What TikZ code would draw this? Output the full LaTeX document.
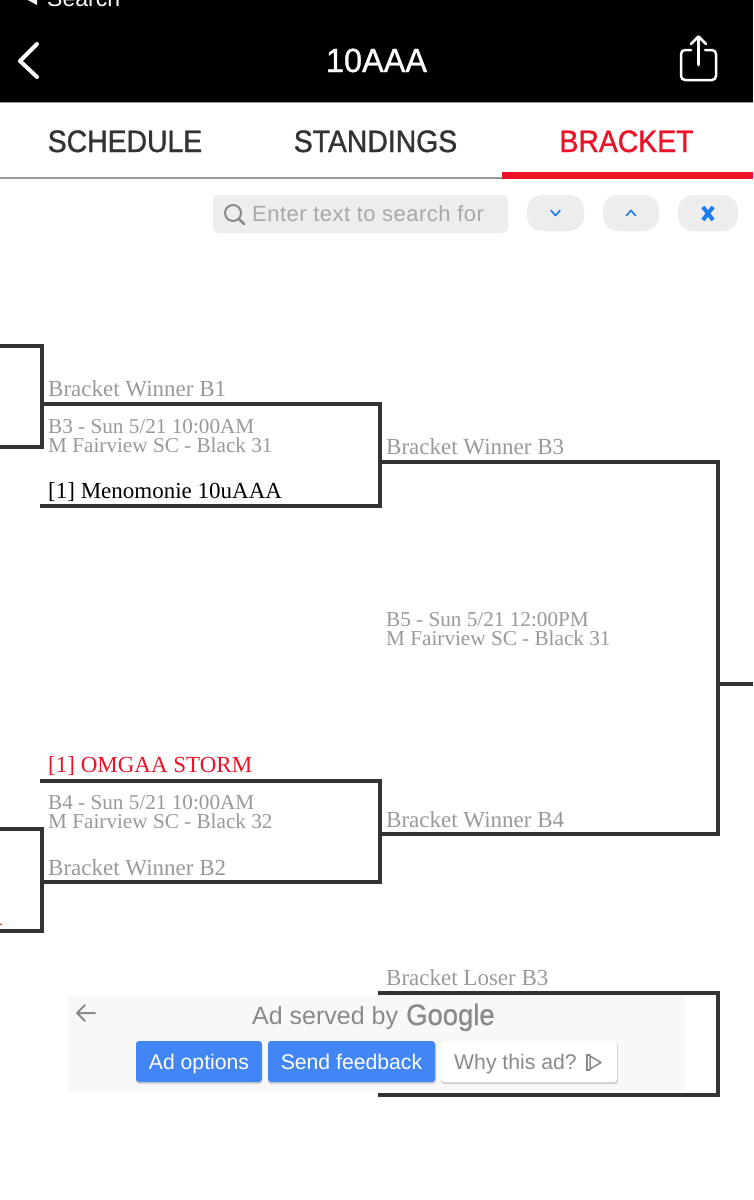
\documentclass[tikz,border=0pt]{standalone}
\usepackage{fontspec}
\setmainfont{Liberation Serif}
\newfontfamily\uifont{Liberation Sans}
\newfontfamily\tabfont[FakeBold=1.1,FakeStretch=0.915]{Liberation Sans}
\newfontfamily\titlefont[FakeBold=0.9,FakeStretch=0.97]{Liberation Sans}
\newfontfamily\googfont[FakeBold=0.8,FakeStretch=0.93]{Liberation Sans}
\newfontfamily\searchfont[LetterSpace=2.2]{Liberation Sans}
\definecolor{brk}{HTML}{333333}
\definecolor{muted}{HTML}{999999}
\definecolor{tabdark}{HTML}{333333}
\definecolor{brandred}{HTML}{EC1328}
\definecolor{chip}{HTML}{EDEDED}
\definecolor{iosblue}{HTML}{1A7CF0}
\definecolor{adbg}{HTML}{F8F8F8}
\definecolor{adblue}{HTML}{4285F4}
\definecolor{adgrey}{HTML}{8A8A8A}
\tikzset{
  x=1pt,y=-1pt,
  bline/.style={draw=brk,line width=4pt,line join=miter},
  lbl/.style={anchor=base west,inner sep=0pt,font=\fontsize{23}{23}\selectfont,text=muted},
  small/.style={lbl,font=\fontsize{21.2}{21.2}\selectfont},
  team/.style={lbl,text=black},
  win/.style={lbl,text=brandred},
  tab/.style={anchor=base,inner sep=0pt,font=\tabfont\fontsize{31}{31}\selectfont,text=tabdark},
  chipbtn/.style={fill=chip,rounded corners=15pt},
  adbtn/.style={anchor=base,inner sep=0pt,font=\uifont\fontsize{21.2}{22}\selectfont,text=white},
  icon/.style={draw=white,line width=3pt,line cap=round,line join=round},
  smallicon/.style={draw=iosblue,line width=1.6pt,line cap=round,line join=round},
}
\begin{document}
\begin{tikzpicture}
\useasboundingbox (0,0) rectangle (753,1200);
\clip (0,0) rectangle (753,1200);
\fill[white] (0,0) rectangle (753,1200);
% header
\fill[black] (0,0) rectangle (753,102);
\draw[muted,line width=1pt] (0,102.5) -- (753,102.5);
\node[anchor=base west,inner sep=0pt,text=white,font=\uifont\fontsize{23}{23}\selectfont] (searchback) at (47,6.5) {Search};
\fill[white] (26,-1) -- (37,-7) -- (37,5) -- cycle;
\node[anchor=base,inner sep=0pt,text=white,font=\titlefont\fontsize{33.5}{33.5}\selectfont] (title) at (376.5,72) {10AAA};
\draw[icon,line width=4pt] (37,44) -- (20,61) -- (37,77);
\draw[icon,line width=2.5pt,rounded corners=4pt] (691,50) -- (681,50) -- (681,80) -- (716,80) -- (716,50) -- (705,50);
\draw[icon,line width=2.5pt] (698.5,37) -- (698.5,65);
\draw[icon,line width=2.5pt] (691,44) -- (698.5,36.5) -- (706,44);
% tabs
\node[tab] (schedule) at (125,152) {SCHEDULE};
\node[tab] (standings) at (375.5,152) {STANDINGS};
\node[tab,text=brandred] (bracket) at (626.5,152) {BRACKET};
\draw[muted,line width=1.5pt] (0,178) -- (502,178);
\fill[brandred] (502,172) rectangle (753,179);
% search row
\fill[chip,rounded corners=6pt] (213,195) rectangle (508,233);
\draw[adgrey,line width=2pt] (233,213) circle (8);
\draw[adgrey,line width=2.5pt,line cap=round] (239,219) -- (244,224);
\node[anchor=base west,inner sep=0pt,text=muted!85!white,font=\searchfont\fontsize{22}{22}\selectfont] (searchtxt) at (252,221.5) {Enter text to search for};
\fill[chipbtn] (527,195) rectangle (584,231);
\fill[chipbtn] (603,195) rectangle (659,231);
\fill[chipbtn] (678,195) rectangle (738,231);
\draw[smallicon] (551,210.5) -- (555.5,215.5) -- (560,210.5);
\draw[smallicon] (626.5,215.5) -- (631,210.5) -- (635.5,215.5);
\draw[iosblue,line width=4pt] (703,207) -- (713,220) (713,207) -- (703,220);
% bracket lines
\coordinate (a1) at (0,346); \coordinate (a2) at (42,346); \coordinate (a3) at (42,447); \coordinate (a4) at (0,447);
\draw[bline] (a1) -- (a2) -- (a3) -- (a4);
\coordinate (b1) at (40,404); \coordinate (b2) at (380,404); \coordinate (b3) at (380,506); \coordinate (b4) at (40,506);
\draw[bline] (b1) -- (b2) -- (b3) -- (b4);
\coordinate (c1) at (380,462); \coordinate (c2) at (718,462); \coordinate (c3) at (718,834); \coordinate (c4) at (380,834);
\draw[bline] (c1) -- (c2) -- (c3) -- (c4);
\coordinate (c5) at (718,684); \coordinate (c6) at (753,684);
\draw[bline] (c5) -- (c6);
\coordinate (d1) at (40,781); \coordinate (d2) at (380,781); \coordinate (d3) at (380,882); \coordinate (d4) at (40,882);
\draw[bline] (d1) -- (d2) -- (d3) -- (d4);
\coordinate (e1) at (0,829); \coordinate (e2) at (42,829); \coordinate (e3) at (42,931); \coordinate (e4) at (0,931);
\draw[bline] (e1) -- (e2) -- (e3) -- (e4);
% bracket labels
\node[lbl] (t1) at (48,396) {Bracket Winner B1};
\node[small] (t2) at (48,433) {B3 - Sun 5/21 10:00AM};
\node[small] (t3) at (48,452) {M Fairview SC - Black 31};
\node[team] (t4) at (48,498) {[1] Menomonie 10uAAA};
\node[lbl] (t5) at (386,454) {Bracket Winner B3};
\node[small] (t6) at (386,626) {B5 - Sun 5/21 12:00PM};
\node[small] (t7) at (386,645) {M Fairview SC - Black 31};
\node[win] (t8) at (48,772) {[1] OMGAA STORM};
\node[small] (t9) at (48,809) {B4 - Sun 5/21 10:00AM};
\node[small] (t10) at (48,828) {M Fairview SC - Black 32};
\node[lbl] (t11) at (48,875) {Bracket Winner B2};
\node[lbl] (t12) at (386,827) {Bracket Winner B4};
\node[lbl] (t13) at (386,985) {Bracket Loser B3};
\node[win,anchor=base east] (t14) at (3,925) {A};
% loser bracket
\coordinate (f1) at (378,993); \coordinate (f2) at (718,993); \coordinate (f3) at (718,1095); \coordinate (f4) at (378,1095);
\draw[bline] (f1) -- (f2) -- (f3) -- (f4);
% ad overlay
\fill[adbg] (68,995) rectangle (685,1091);
\draw[adgrey,line width=2pt,line cap=round,line join=round] (77,1013) -- (95,1013) (85,1005) -- (77,1013) -- (85,1021);
\node[anchor=base west,inner sep=0pt,text=adgrey,font=\uifont\fontsize{25}{25}\selectfont] (adby) at (252,1024) {Ad served by};
\node[anchor=base west,inner sep=0pt,text=adgrey,font=\googfont\fontsize{29.5}{29.5}\selectfont] (goog) at (406,1025) {Google};
\fill[black!18,rounded corners=3pt] (136,1042.5) rectangle (262,1084);
\fill[black!18,rounded corners=3pt] (268,1042.5) rectangle (436,1084);
\fill[black!18,rounded corners=3pt] (441,1042.5) rectangle (618,1084);
\fill[adblue,rounded corners=3pt] (136,1041) rectangle (262,1082);
\fill[adblue,rounded corners=3pt] (268,1041) rectangle (435,1082);
\fill[white,rounded corners=3pt] (441,1041) rectangle (617,1082);
\node[adbtn] (opt) at (199,1069) {Ad options};
\node[adbtn] (fb) at (351.5,1069) {Send feedback};
\node[adbtn,text=adgrey,anchor=base west] (why) at (454,1069) {Why this ad?};
\draw[adgrey,line width=1.5pt,line join=round] (590,1056) -- (601,1062.5) -- (590,1069) -- cycle;
\draw[adgrey,line width=1.5pt,line cap=round] (590,1055) -- (587,1055) -- (587,1070) -- (590,1070);
\end{tikzpicture}
\end{document}
